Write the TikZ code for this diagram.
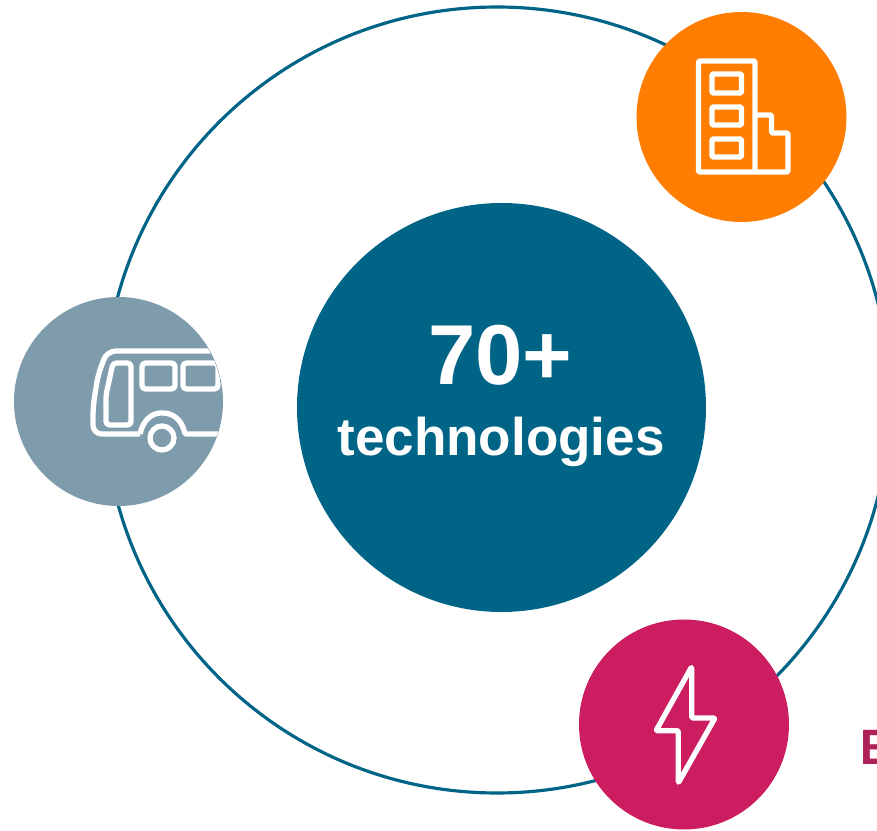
\documentclass[tikz,border=0pt]{standalone}
\usepackage{xcolor}
\usepackage{fontspec}
\setmainfont{Liberation Sans}
\newfontfamily\labelfont{Carlito}
\definecolor{ringblue}{HTML}{006487}
\definecolor{busgrey}{HTML}{7E9CAC}
\definecolor{houseorange}{HTML}{FF7D00}
\definecolor{powerred}{HTML}{CB1D5F}
\definecolor{wordred}{HTML}{AF2259}
\tikzset{
	disc/.style={circle,inner sep=0pt,minimum size=#1*0.02cm},
	icon/.style={draw=white,line width=3pt,line join=round,rounded corners=0.6pt},
}
\begin{document}
\begin{tikzpicture}[x=0.02cm,y=-0.02cm]
	\clip (0,0) rectangle (877,831);
	\fill[white] (0,0) rectangle (877,831);
	\node[disc=786,draw=ringblue,line width=1.8pt] (ring) at (497,400) {};
	\node[disc=409,fill=ringblue] (hub) at (501.5,407.5) {};
	\node[disc=209,fill=busgrey] (bus) at (118.5,401.5) {};
	\node[disc=210,fill=houseorange] (house) at (741.5,117) {};
	\node[disc=210,fill=powerred] (power) at (684,724.5) {};
	\node[anchor=base,white,font=\bfseries\fontsize{48.4pt}{50pt}\selectfont] (count) at (500.5,385) {70+};
	\node[anchor=base,white,font=\bfseries\fontsize{30.2pt}{32pt}\selectfont] (tech) at (501,456) {technologies};
	\node[anchor=base west,inner sep=0pt,wordred,font=\labelfont\bfseries\fontsize{30pt}{32pt}\selectfont] (word) at (860,765) {E};
	% bus
	\begin{scope}
		\clip (118.5,401.5) circle (104);
		\draw[icon,rounded corners=5pt] (225,351) -- (107,351) -- (98,375) -- (93,407) -- (93,434) -- (140,434);
		\draw[icon] (140,434) .. controls (143,420) and (152,413) .. (162,413) .. controls (173,413) and (182,420) .. (185,434) -- (225,434);
		\draw[icon] (162,438) circle (12);
		\draw[icon,rounded corners=2pt] (113,363) -- (131,363) -- (131,425) -- (106,425) -- (106,395) -- cycle;
		\draw[icon,rounded corners=2pt] (142,363) rectangle (175,389);
		\draw[icon,rounded corners=2pt] (183,363) rectangle (218,389);
	\end{scope}
	% building
	\draw[icon] (698.5,61) rectangle (755,172);
	\draw[icon] (755,115) -- (771.5,115) -- (771.5,133) -- (788,133) -- (788,172) -- (755,172);
	\draw[icon] (712,74) rectangle (741.5,93);
	\draw[icon] (712,107) rectangle (741.5,125);
	\draw[icon] (712,139) rectangle (741.5,157);
	% bolt
	\draw[icon] (691.7,666.7) -- (691.7,718) -- (715,718) -- (678.3,783) -- (678.3,730.7) -- (656,730.7) -- cycle;
\end{tikzpicture}
\end{document}
